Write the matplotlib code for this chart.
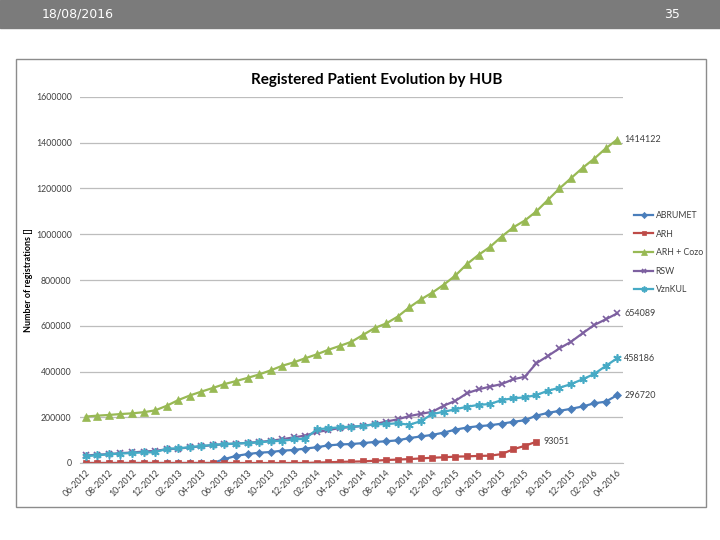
import matplotlib
matplotlib.use("Agg")
import matplotlib.pyplot as plt
import numpy as np

plt.rcParams['font.family'] = ['Lato', 'DejaVu Sans']

# every second month gets a tick label (06-2012 .. 04-2016, 47 months)
tick_labels = ["06-2012", "08-2012", "10-2012", "12-2012", "02-2013", "04-2013",
               "06-2013", "08-2013", "10-2013", "12-2013", "02-2014", "04-2014",
               "06-2014", "08-2014", "10-2014", "12-2014", "02-2015", "04-2015",
               "06-2015", "08-2015", "10-2015", "12-2015", "02-2016", "04-2016"]

# values in thousands
abrumet = [0, 0, 0, 0, 0, 0, 0, 0, 0, 0, 0, 0,
           17, 31, 39, 45, 48, 54, 57, 63, 69, 77, 81, 83, 87, 92, 95, 99,
           109, 116, 123, 133, 146, 155, 161, 165, 172, 180, 187, 207, 219,
           228, 237, 247, 261, 268, 296.72]
arh = [0, 0, 0, 0, 0, 0, 0, 0, 0, 0, 0, 0, 0, 0, 0, 0, 0, 0, 0, 0,
       2, 3, 5, 6, 7, 10, 13, 15, 17, 20, 23, 25, 28, 29, 31, 32, 39, 60, 75, 93.051,
       np.nan, np.nan, np.nan, np.nan, np.nan, np.nan, np.nan]
arh_cozo = [203, 207, 210, 214, 217, 222, 230, 250, 275, 295, 312, 328, 345, 358,
            372, 387, 405, 425, 440, 458, 475, 495, 512, 530, 560, 590, 610, 640,
            680, 715, 745, 780, 820, 870, 910, 945, 990, 1030, 1060, 1100, 1150,
            1200, 1245, 1290, 1330, 1375, 1414.122]
rsw = [33, 36, 39, 43, 46, 50, 53, 60, 63, 68, 73, 78, 82, 85, 88, 92, 97, 104,
       112, 120, 135, 144, 153, 157, 162, 170, 181, 191, 205, 215, 224, 251, 272,
       305, 322, 334, 345, 366, 377, 436, 468, 501, 530, 567, 603, 628, 654.089]
vznkul = [30, 34, 38, 41, 44, 46, 47, 62, 64, 69, 74, 79, 83, 85, 87, 90, 95, 97,
          103, 106, 147, 152, 156, 159, 162, 169, 170, 174, 167, 183, 214, 224, 235,
          246, 254, 258, 275, 283, 287, 297, 316, 329, 345, 366, 389, 424, 458.186]

series = [("ABRUMET", abrumet, "#4a7ebb", "D", 4.5),
          ("ARH", arh, "#be4b48", "s", 5),
          ("ARH + Cozo", arh_cozo, "#98b954", "^", 6),
          ("RSW", rsw, "#7d60a0", "x", 5),
          ("VznKUL", vznkul, "#46aac5", (6, 2, 0), 6)]
end_labels = {"ABRUMET": "296720", "ARH": "93051", "ARH + Cozo": "1414122",
              "RSW": "654089", "VznKUL": "458186"}

fig = plt.figure(figsize=(7.2, 5.4), dpi=100)

# slide header
fig.patches.append(plt.Rectangle((0, 1 - 28/540), 1, 28/540, transform=fig.transFigure,
                                 color="#7b7b7b", zorder=0))
fig.text(42/720, 1 - 14/540, "18/08/2016", color="white", fontsize=9, va="center",
         family=["Liberation Sans Narrow", "DejaVu Sans"])
fig.text(664/720, 1 - 14/540, "35", color="white", fontsize=9, va="center",
         family=["Liberation Sans Narrow", "DejaVu Sans"])

# chart frame
fig.patches.append(plt.Rectangle((16/720, 1 - 507/540), 690/720, 448/540,
                                 transform=fig.transFigure, fill=False,
                                 edgecolor="#8c8c8c", lw=1))

ax = fig.add_axes([80/720, 1 - 463/540, 543/720, 366/540])
x = np.arange(len(arh_cozo))
for name, vals, col, mk, ms in series:
    v = np.array(vals, dtype=float) * 1000
    ax.plot(x, v, color=col, marker=mk, markersize=ms, lw=1.6, label=name,
            markeredgewidth=1.2 if mk in ("x", (6, 2, 0)) else 0.5, markeredgecolor=col)
    last = np.where(~np.isnan(v))[0][-1]
    ax.annotate(end_labels[name], (x[last], v[last]), xytext=(5, 0),
                textcoords="offset points", fontsize=6.5, color="#404040", va="center")

ax.set_xlim(-0.5, len(x) - 0.5)
ax.set_ylim(0, 1600000)
ax.set_yticks(np.arange(0, 1600001, 200000))
ax.set_yticklabels([str(t) for t in range(0, 1600001, 200000)])
ax.set_xticks(x[::2])
ax.set_xticklabels(tick_labels, rotation=45, ha="right", rotation_mode="anchor")
ax.tick_params(axis="both", length=0, labelsize=6.3, labelcolor="#404040")
ax.tick_params(axis="y", pad=6)
ax.tick_params(axis="x", pad=4)
ax.grid(axis="y", color="#bdbdbd", lw=0.9)
ax.set_axisbelow(True)
for s in ["top", "right", "left"]:
    ax.spines[s].set_visible(False)
ax.spines["bottom"].set_color("#bdbdbd")

ax.set_ylabel("Number of registrations []", fontsize=6.5, fontweight="bold", labelpad=2)
fig.text(377/720, 1 - 80/540, "Registered Patient Evolution by HUB", fontsize=11,
         fontweight="bold", ha="center", va="center")

fig.legend(loc="upper left", bbox_to_anchor=(626/720, 1 - 203/540), frameon=False,
           fontsize=6.3, handlelength=2.2, labelspacing=1.1, handletextpad=0.3,
           markerscale=0.7, labelcolor="#404040")

fig.savefig("out.png", dpi=100)
